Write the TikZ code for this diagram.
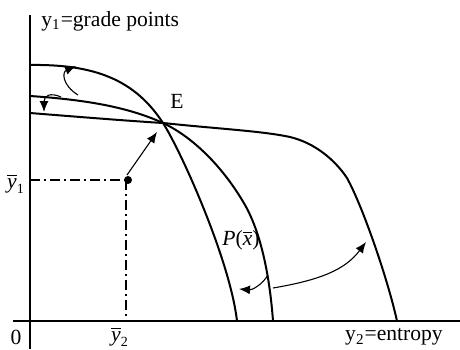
\documentclass[tikz,border=0pt]{standalone}
\usepackage{fontspec}
\setmainfont{Liberation Serif}
\usetikzlibrary{arrows.meta}
\tikzset{
  axis/.style={line width=1.1pt},
  curve/.style={line width=1pt},
  guide/.style={line width=1pt, dash pattern=on 5pt off 2pt on 1pt off 2pt},
  pointer/.style={line width=0.55pt, -{Latex[length=5.5pt,width=4.5pt]}},
  lbl/.style={inner sep=0pt, font=\fontsize{10.8}{13}\selectfont}
}
\newcommand{\ybar}[1]{$\overline{\mbox{\textit{y}}}_{\mbox{\scriptsize #1}}$}
\begin{document}
\begin{tikzpicture}[x=0.5pt,y=-0.5pt]
\useasboundingbox (0,0) rectangle (460,349);
% axes
\draw[axis] (30,15) -- (30,349);
\draw[axis] (13,321) -- (460,321);
% named points
\coordinate (E) at (163,123);
\coordinate (P) at (128,180);
% guides
\draw[guide] (30,180) -- (P);
\draw[guide] (126,180) -- (126,321);
\fill (P) circle (4);
% curve A (inner)
\draw[curve] (30,65) .. controls (95,64) and (135,80) .. (E)
  .. controls (181,151) and (230,260) .. (237,321);
% curve B (middle)
\draw[curve] (30,96) .. controls (90,100) and (130,108) .. (E)
  .. controls (195,138) and (225,170) .. (245,205)
  .. controls (262,235) and (270,280) .. (273,321);
% curve C (outer)
\draw[curve] (30,113) .. controls (80,117) and (130,121) .. (E)
  .. controls (220,129) and (262,131) .. (290,137)
  .. controls (315,143) and (335,160) .. (347,178)
  .. controls (363,207) and (388,280) .. (397,321);
% arrows
\draw[pointer] (P) ++(-1,-5) -- (157,132);
\draw[pointer] (78,95) .. controls (62,85) and (62,72) .. (76,66);
\draw[pointer] (61,97) .. controls (50,92) and (44,96) .. (44,112);
\draw[pointer] (268,275) .. controls (262,285) and (252,290) .. (239,289);
\draw[pointer] (273,288) .. controls (320,280) and (345,270) .. (366,242);
% labels
\node[lbl, anchor=west] (ylab) at (41,21) {y\textsubscript{1}=grade points};
\node[lbl] (Elab) at (177,101) {E};
\node[lbl] (y1bar) at (16,184) {\ybar{1}};
\node[lbl] (zero) at (16,337) {0};
\node[lbl] (y2bar) at (120,337) {\ybar{2}};
\node[lbl] (xlab) at (394,337) {y\textsubscript{2}=entropy};
\node[lbl] (Plab) at (241,240) {\textit{P}($\overline{\mbox{\textit{x}}}$)};
\end{tikzpicture}
\end{document}
